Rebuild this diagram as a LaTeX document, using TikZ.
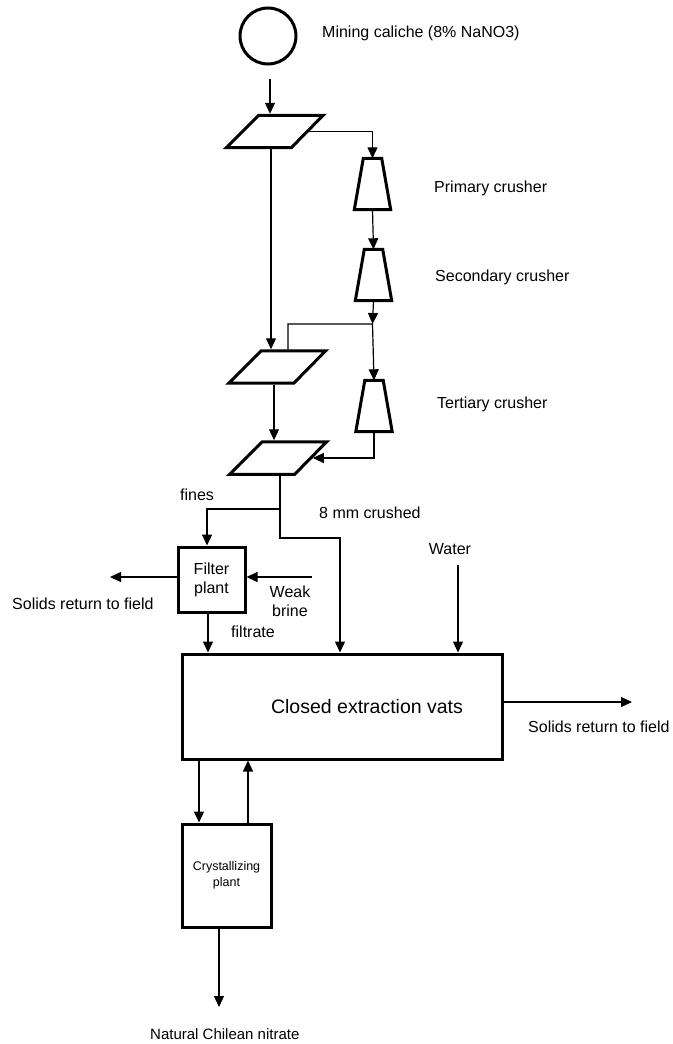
\documentclass[tikz,border=0pt]{standalone}
\usepackage{fontspec}
\setmainfont{Liberation Sans}
\usepackage{tikz}
\usetikzlibrary{shapes.geometric,arrows.meta,positioning,calc}

\begin{document}
\begin{tikzpicture}[
    x=1pt, y=-1pt,
    font=\fontsize{16}{19}\selectfont,
    source/.style={circle, draw, line width=3pt, minimum size=56pt, inner sep=0pt},
    screen/.style={trapezium, trapezium left angle=45, trapezium right angle=134.5, draw, line width=3pt, minimum height=25pt, minimum width=97pt, inner sep=1pt},
    crusher/.style={rectangle, minimum width=36pt, minimum height=51pt, inner sep=0pt,
        append after command={\pgfextra{\draw[line width=3pt]
            ([xshift=9pt]\tikzlastnode.north west) -- ([xshift=-9pt]\tikzlastnode.north east)
            -- (\tikzlastnode.south east) -- (\tikzlastnode.south west) -- cycle;}}},
    plant/.style={rectangle, draw, line width=3pt, align=center, inner sep=0pt},
    lbl/.style={anchor=west, inner sep=0pt},
    flow/.style={line width=1.2pt},
    arr/.style={flow, -{Triangle[length=11pt,width=10pt]}}
]
\useasboundingbox (0,0) rectangle (672,1044);

% units and crushing
\node (mine) [source] at (268,36) {};
\node (pa1) [screen] at (275,131.5) {};
\node (pa2) [screen] at (277.5,367) {};
\node (pa3) [screen] at (278.5,458) {};
\node (cr1) [crusher] at (372.5,184) {};
\node (cr2) [crusher] at (373.5,275) {};
\node (cr3) [crusher] at (374,406) {};

% plants
\node (filter) [plant, minimum width=67pt, minimum height=65pt] at (211.5,579.5) {Filter\\plant};
\node (vats) [plant, minimum width=320pt, minimum height=105pt, font=\fontsize{19.5}{23}\selectfont] at (342,706.5) {\hspace*{50pt}Closed extraction vats};
\node (cryst) [plant, minimum width=89pt, minimum height=103pt, font=\fontsize{12.5}{16}\selectfont] at (226.5,875.5) {Crystallizing\\plant};

% labels
\node (lmine) [lbl] at (322,33) {Mining caliche (8\% NaNO3)};
\node (lcr1) [lbl] at (434,188) {Primary crusher};
\node (lcr2) [lbl] at (435,277) {Secondary crusher};
\node (lcr3) [lbl] at (437,404) {Tertiary crusher};
\node (lfines) [lbl] at (180,495) {fines};
\node (lcrushed) [lbl] at (319,513) {8 mm crushed};
\node (lwater) [inner sep=0pt] at (450,549) {Water};
\node (lsolidsL) [lbl] at (12,604) {Solids return to field};
\node (lbrine) [inner sep=0pt, align=center] at (290,601) {Weak\\brine};
\node (lfiltrate) [lbl] at (231,632) {filtrate};
\node (lsolidsR) [lbl] at (528,727) {Solids return to field};
\node (lnat) [lbl, font=\fontsize{15}{18}\selectfont] at (150,1034) {Natural Chilean nitrate};

% junctions and free ends
\coordinate (j1) at (372.5,324);
\coordinate (j2) at (280,509);
\coordinate (j3) at (340,538);
\coordinate (outL) at (110,577);
\coordinate (inB) at (312,577);
\coordinate (inW) at (458,565);
\coordinate (outR) at (632,702);
\coordinate (outN) at (219,1007);

% flows
\draw[arr, shorten <=13pt] (mine.south -| 270,0) -- (pa1.north -| 270,0);
\draw[arr] (pa1.east) -| (cr1.north);
\draw[arr] (pa1.south -| 271,0) -- (pa2.north -| 271,0);
\draw[arr] (cr1.south) -- (cr2.north);
\draw[arr] (cr2.south) -- (j1);
\draw[arr] (pa2.north -| 288,0) |- (j1) -- (cr3.north);
\draw[arr] (pa2.south -| 274,0) -- (pa3.north -| 274,0);
\draw[arr] (cr3.south) |- (pa3.east);
\draw[flow] (pa3.south -| j2) -- (j2);
\draw[arr] (j2) -| (filter.north -| 207,0);
\draw[arr] (j2) |- (j3) -- (vats.north -| j3);
\draw[arr] (filter.west |- outL) -- (outL);
\draw[arr] (inB) -- (filter.east |- inB);
\draw[arr] (filter.south -| 208,0) -- (vats.north -| 208,0);
\draw[arr] (inW) -- (vats.north -| inW);
\draw[arr] (vats.east |- outR) -- (outR);
\draw[arr] (vats.south -| 199,0) -- (cryst.north -| 199,0);
\draw[arr] (cryst.north -| 248,0) -- (vats.south -| 248,0);
\draw[arr] (cryst.south -| outN) -- (outN);
\end{tikzpicture}
\end{document}
